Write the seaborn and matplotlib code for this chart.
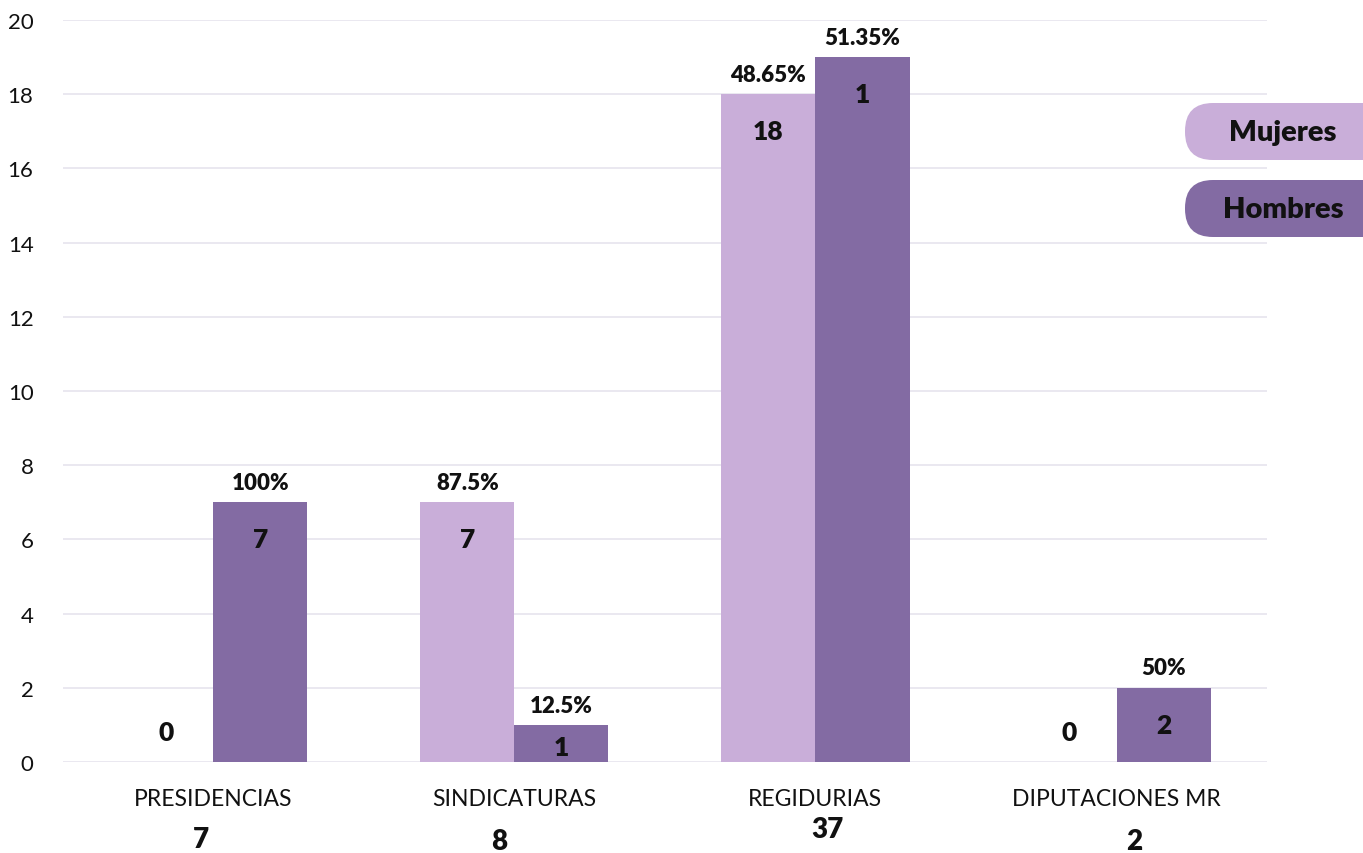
import matplotlib
matplotlib.use("Agg")
import matplotlib.pyplot as plt
from matplotlib.patches import FancyBboxPatch
from matplotlib.transforms import IdentityTransform
import pandas as pd
import seaborn as sns

# ── Data ──────────────────────────────────────────────────────────────────────
categories = ["PRESIDENCIAS", "SINDICATURAS", "REGIDURIAS", "DIPUTACIONES MR"]
mujeres = [0, 7, 18, 0]
hombres = [7, 1, 19, 2]
mujeres_text = ["0", "7", "18", "0"]
hombres_text = ["7", "1", "1", "2"]
mujeres_pct = ["", "87.5%", "48.65%", ""]
hombres_pct = ["100%", "12.5%", "51.35%", "50%"]
totals = ["7", "8", "37", "2"]

COLORS = {"Mujeres": "#C9AED9", "Hombres": "#836BA3"}
BOLD = "heavy"

df = pd.DataFrame({
    "cargo": categories * 2,
    "sexo": ["Mujeres"] * 4 + ["Hombres"] * 4,
    "valor": mujeres + hombres,
})

sns.set_theme(style="white")
plt.rcParams["font.family"] = ["Lato", "DejaVu Sans"]

fig = plt.figure(figsize=(13.63, 8.54), dpi=100)
ax = fig.add_axes([0.046, 0.1066, 0.8836, 0.8688])

sns.barplot(data=df, x="cargo", y="valor", hue="sexo",
            hue_order=["Mujeres", "Hombres"], palette=COLORS,
            width=0.625, gap=0, saturation=1, errorbar=None,
            linewidth=0, legend=False, ax=ax)

ax.set_ylim(0, 20)
ax.set_xlim(-0.5, 3.5)
ax.set_yticks(range(0, 21, 2))
ax.set_xlabel("")
ax.set_ylabel("")
ax.grid(axis="y", color="#E8E6EF", linewidth=1.3)
ax.set_axisbelow(True)
sns.despine(ax=ax, left=True, bottom=True)
ax.tick_params(axis="y", labelsize=16, colors="#111111", length=0, pad=21)
ax.tick_params(axis="x", labelsize=16.5, colors="#111111", length=0, pad=19)

# value labels inside / above bars
for cont, texts, pcts in zip(ax.containers,
                             [mujeres_text, hombres_text],
                             [mujeres_pct, hombres_pct]):
    for bar, t, p in zip(cont.patches, texts, pcts):
        cx = bar.get_x() + bar.get_width() / 2
        h = bar.get_height()
        y_in = max(h - 1.0, 0.4) if h > 0 else 0.8
        ax.text(cx, y_in, t, ha="center", va="center",
                fontsize=19, fontweight=BOLD, color="#111111")
        if p:
            ax.text(cx, h + 0.25, p, ha="center", va="bottom",
                    fontsize=16, fontweight=BOLD, color="#111111")

# totals under each category
total_dy = [-0.104, -0.106, -0.090, -0.106]
total_dx = [-0.04, -0.05, 0.04, 0.06]
for i, t in enumerate(totals):
    ax.text(i + total_dx[i], total_dy[i], t, transform=ax.get_xaxis_transform(),
            ha="center", va="center", fontsize=20, fontweight=BOLD,
            color="#111111")

# pill-shaped legend on the right, clipped by the figure edge (pixel coords)
for j, (name, color) in enumerate(COLORS.items()):
    top = 104 + j * 77
    y0 = 854 - top - 57
    pill = FancyBboxPatch((1185, y0), 240, 57,
                          boxstyle="round,pad=0,rounding_size=28",
                          transform=IdentityTransform(), facecolor=color,
                          edgecolor="none")
    fig.patches.append(pill)
    fig.text(1283 / 1363, (y0 + 28.5) / 854, name, ha="center", va="center",
             fontsize=21, fontweight=BOLD, color="#111111")

fig.savefig("out.png", dpi=100)
